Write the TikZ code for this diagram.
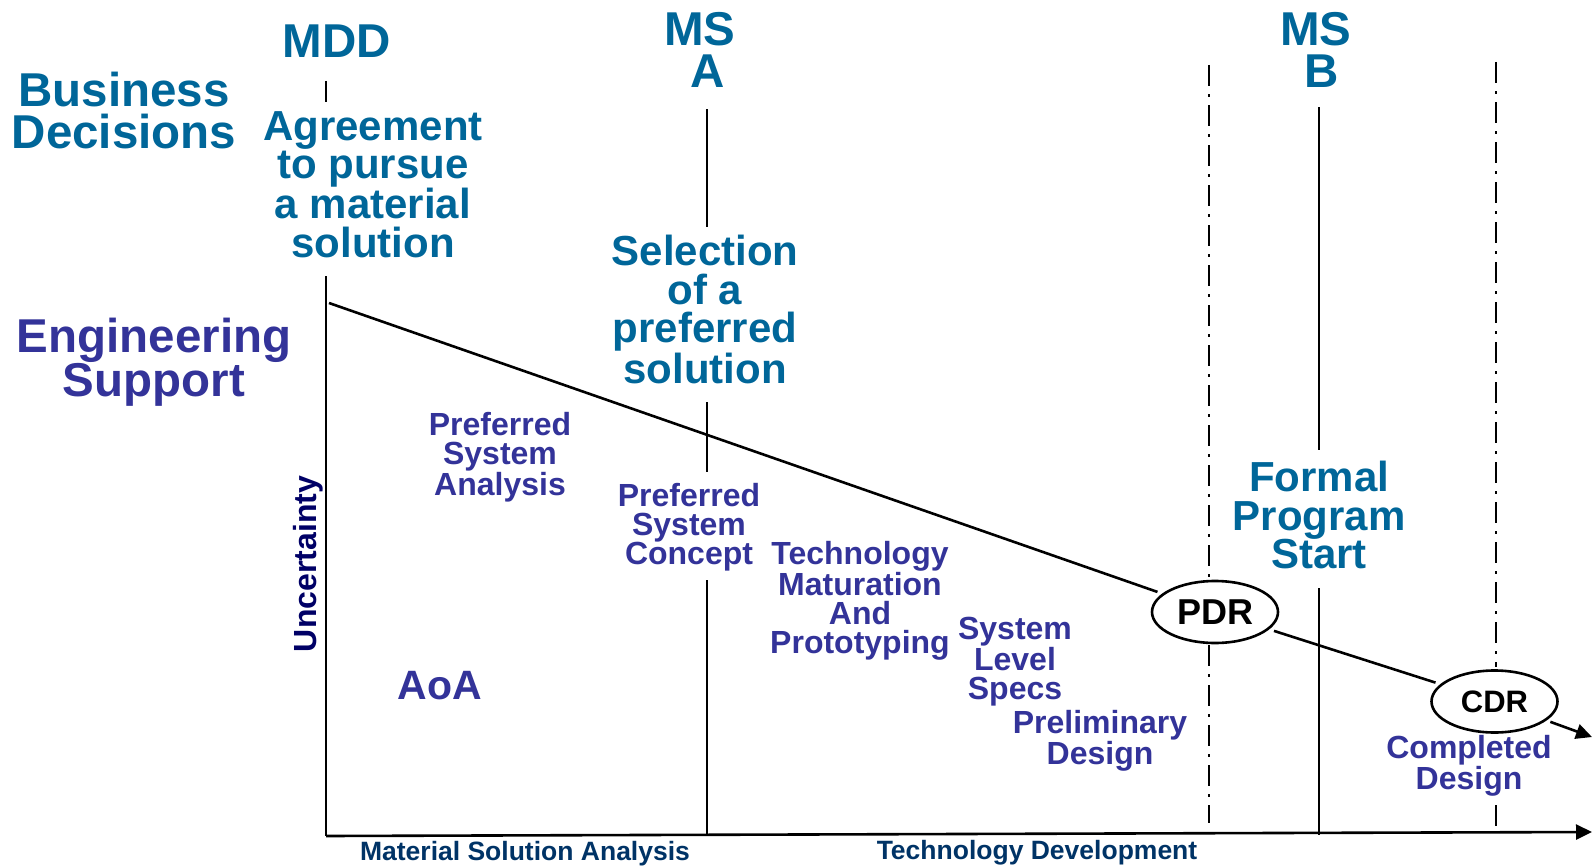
\documentclass[tikz,border=0pt]{standalone}
\usepackage{fontspec}
\setmainfont{Liberation Sans}
\usepackage{xcolor}
\usetikzlibrary{arrows.meta,shapes.geometric,positioning}
\definecolor{decblue}{RGB}{0,102,153}
\definecolor{engpurple}{RGB}{51,51,153}
\definecolor{phasenavy}{RGB}{0,51,102}
\definecolor{axisnavy}{RGB}{0,0,102}

\begin{document}
\begin{tikzpicture}[x=1pt, y=-1pt,
    heading/.style={font=\bfseries\fontsize{47.5}{42.5}\selectfont, align=center, inner sep=0pt},
    decision/.style={font=\bfseries\fontsize{42}{38.5}\selectfont, text=decblue, align=center, inner sep=0pt},
    activity/.style={font=\bfseries\fontsize{32}{29}\selectfont, text=engpurple, align=center, inner sep=0pt},
    phase/.style={font=\bfseries\fontsize{26.5}{30}\selectfont, text=phasenavy, inner sep=0pt},
    review/.style={draw, ellipse, line width=2.6pt, inner sep=0pt, minimum width=126pt, minimum height=62pt},
    gate/.style={line width=2.8pt},
    checkpoint/.style={line width=2.8pt, dash pattern=on 21pt off 8pt on 3pt off 8pt},
    arrow/.style={-{Triangle[length=16pt, width=15pt]}, line width=2.6pt}
]
\useasboundingbox (0,0) rectangle (1593,867);

% headings on the left
\node[heading, text=decblue] (business) at (124,110.5) {Business\\Decisions};
\node[heading, text=engpurple] (engineering) at (154,362) {Engineering\\Support};

% milestones
\node[heading, text=decblue] (mdd) at (337,41) {MDD};
\node[heading, text=decblue] (msa) at (700,50) {MS\\\hspace*{15pt}A};
\node[heading, text=decblue] (msb) at (1316,50) {MS\\\hspace*{12pt}B};

\node[decision] (pursue) at (373,184.5) {Agreement\\to pursue\\a material\\solution};
\node[decision] (select) at (705,309.5) {Selection\\of a\\preferred\\solution};
\node[decision] (start) at (1319,515) {Formal\\Program\\Start};

% milestone lines
\draw[gate] (326,81) -- (326,102);
\draw[gate] (707,109) -- (707,227);
\draw[gate] (707,402) -- (707,472);
\draw[gate] (707,580) -- (707,835);
\draw[gate] (1319,107) -- (1319,450);
\draw[gate] (1319,588) -- (1319,835);

% review lines
\draw[checkpoint] (1209,65) -- (1209,577);
\draw[checkpoint] (1209,645) -- (1209,823);
\draw[checkpoint] (1496,62) -- (1496,667);
\draw[checkpoint] (1496,805) -- (1496,827);

% axes
\coordinate (origin) at (326,836);
\coordinate (ytop) at (326,276);
\coordinate (xend) at (1592,832);
\draw[gate] (ytop) -- (origin);
\draw[arrow] (origin) -- (xend);

\node[font=\bfseries\fontsize{32}{32}\selectfont, text=axisnavy, rotate=90, inner sep=0pt] (uncert) at (308,564) {Uncertainty};
\node[phase] (msa-phase) at (525,853.5) {Material Solution Analysis};
\node[phase] (td-phase) at (1037,852.5) {Technology Development};

% activities
\node[activity] (psa) at (500,457.5) {Preferred\\System\\Analysis};
\node[activity] (psc) at (689,527) {Preferred\\System\\Concept};
\node[activity] (tmp) at (860,601) {Technology\\Maturation\\And\\Prototyping};
\node[activity] (sls) at (1015,661.7) {System\\Level\\Specs};
\node[activity] (pd) at (1100,741) {Preliminary\\Design};
\node[activity, font=\bfseries\fontsize{41}{41}\selectfont] (aoa) at (440,686) {AoA};
\node[activity] (cd) at (1469,766) {Completed\\Design};

% reviews
\node[review, font=\bfseries\fontsize{36}{36}\selectfont] (pdr) at (1215,612) {PDR};
\node[review, font=\bfseries\fontsize{31}{31}\selectfont] (cdr) at (1494.5,701.5) {CDR};

% uncertainty line
\coordinate (high) at (329,303);
\coordinate (low) at (1592,737);
\draw[line width=2.6pt, shorten >=5pt] (high) -- (pdr);
\draw[line width=2.6pt, shorten >=5pt, shorten <=5pt] (pdr) -- (cdr);
\draw[arrow, shorten <=4pt] (cdr) -- (low);
\end{tikzpicture}
\end{document}
